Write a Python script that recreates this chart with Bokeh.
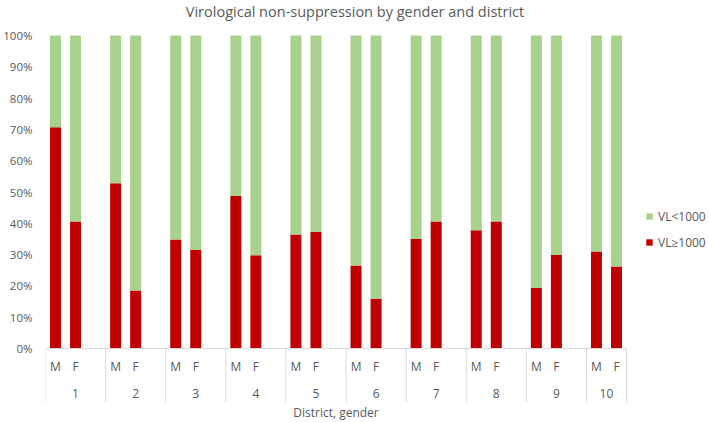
from bokeh.plotting import figure
from bokeh.models import Range1d, FixedTicker, NumeralTickFormatter, Legend, LegendItem, ColumnDataSource
from bokeh.core.properties import value
from bokeh.embed import file_html
from bokeh.resources import INLINE

# ---- data ----
districts = ["1", "2", "3", "4", "5", "6", "7", "8", "9", "10"]
genders = ["M", "F"]
vl_high_m = [0.707, 0.528, 0.348, 0.487, 0.364, 0.265, 0.350, 0.378, 0.194, 0.310]
vl_high_f = [0.406, 0.185, 0.315, 0.298, 0.373, 0.159, 0.406, 0.406, 0.299, 0.262]
y_ticks = [0.0, 0.1, 0.2, 0.3, 0.4, 0.5, 0.6, 0.7, 0.8, 0.9, 1.0]
legend_labels = ["VL<1000", "VL\u22651000"]
title_text = "Virological non-suppression by gender and district"
x_title = "District, gender"

RED = "#C00000"
GREEN = "#A9D18E"
GREY = "#595959"
LINE = "#D9D9D9"
FONT = "Open Sans"

# ---- layout of categories: M, F, gap per district (no gap after last) ----
slots = 3
n_slots = slots * len(districts) - 1
xs, highs, lows, glabels = [], [], [], []
for i, d in enumerate(districts):
    for j, (g, vals) in enumerate(zip(genders, [vl_high_m, vl_high_f])):
        xs.append(slots * i + j + 0.5)
        highs.append(vals[i])
        lows.append(1 - vals[i])
        glabels.append(g)
src = ColumnDataSource(dict(x=xs, high=highs, low=lows, g=glabels))

starts = [slots * i for i in range(len(districts))]
ends = [min(s + slots, n_slots) for s in starts]
bounds = starts + [n_slots]
mids = [(s + e) / 2 for s, e in zip(starts, ends)]

frame_left = 45
fig_w = 709
fig_h = 422
frame_w = fig_w - frame_left
axis_px = 581.0
px_per_unit = axis_px / n_slots
x_end = frame_w / px_per_unit
title_x = (fig_w / 2 - frame_left) / px_per_unit

# vertical mapping: 0% at 348px, 100% at 35px from top
y_top = 348 / 313.0
y_bot = (348 - fig_h) / 313.0

p = figure(width=fig_w, height=fig_h, output_backend="svg", toolbar_location=None,
           x_axis_location=None, x_range=Range1d(0, x_end), y_range=Range1d(y_bot, y_top),
           min_border_left=frame_left, min_border_right=0, min_border_top=0, min_border_bottom=0,
           title=None)
p.outline_line_color = None
p.grid.visible = False
p.background_fill_color = "white"

yax = p.yaxis[0]
yax.ticker = FixedTicker(ticks=y_ticks)
yax.formatter = NumeralTickFormatter(format="0%")
yax.axis_line_color = None
yax.major_tick_line_color = None
yax.minor_tick_line_color = None
yax.major_tick_out = 0
yax.major_tick_in = 0
yax.major_label_standoff = 13
yax.major_label_text_font = FONT
yax.major_label_text_font_size = "11.5px"
yax.major_label_text_color = GREY

rs = p.vbar_stack(["high", "low"], x="x", width=0.55, color=[RED, GREEN], line_color=None, source=src)

# category axis drawn inside frame
p.segment(x0=[0], y0=[0], x1=[n_slots], y1=[0], line_color=LINE, line_width=1)
p.segment(x0=bounds, y0=[0] * len(bounds), x1=bounds, y1=[-0.1725] * len(bounds), line_color=LINE, line_width=1)
p.text(x=xs, y=[-0.0575] * len(xs), text=glabels, text_align="center", text_baseline="middle",
       text_font=value(FONT), text_font_size="12px", text_color=GREY)
p.text(x=mids, y=[-0.1438] * len(mids), text=districts, text_align="center", text_baseline="middle",
       text_font=value(FONT), text_font_size="12px", text_color=GREY)
p.text(x=[n_slots / 2], y=[-0.206], text=[x_title], text_align="center", text_baseline="middle",
       text_font=value(FONT), text_font_size="12px", text_color=GREY)
p.text(x=[title_x], y=[1.077], text=[title_text], text_align="center", text_baseline="middle",
       text_font=value(FONT), text_font_size="14.5px", text_color=GREY)

legend = Legend(items=[LegendItem(label=legend_labels[0], renderers=[rs[1]]),
                       LegendItem(label=legend_labels[1], renderers=[rs[0]])],
                location=(600, 170), orientation="vertical")
legend.glyph_width = 8
legend.glyph_height = 8
legend.label_standoff = 5
legend.spacing = 6
legend.padding = 2
legend.margin = 0
legend.label_height = 20
legend.border_line_color = None
legend.background_fill_alpha = 0
legend.label_text_font = FONT
legend.label_text_font_size = "12px"
legend.label_text_color = GREY
p.add_layout(legend)

open("out.html", "w").write(file_html(p, INLINE))
